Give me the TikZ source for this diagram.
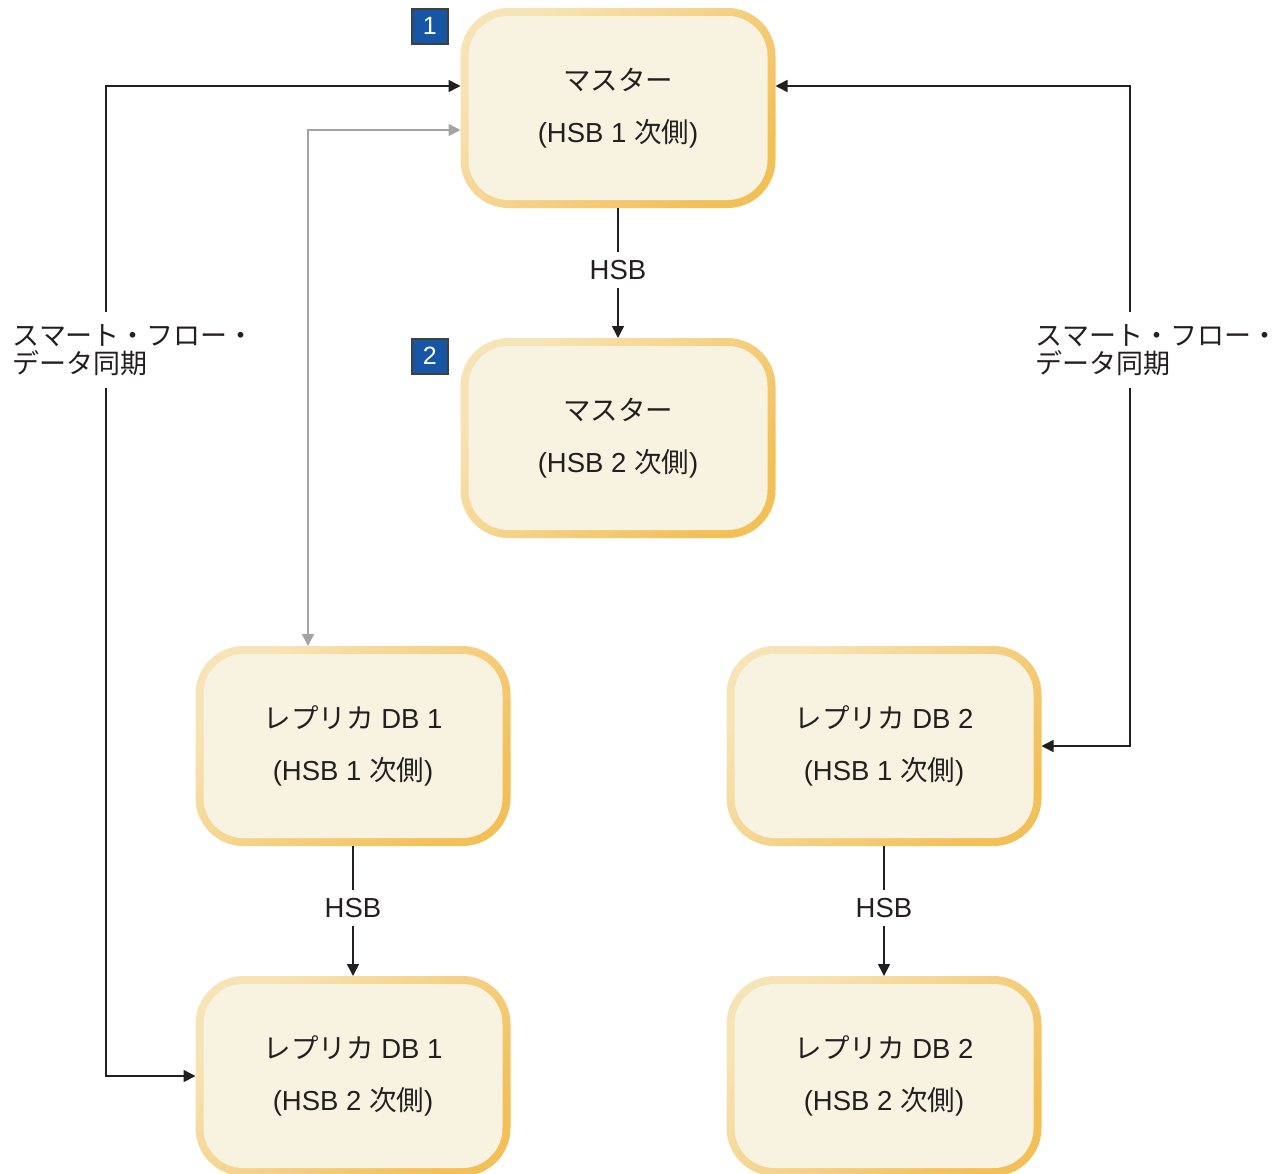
\documentclass[tikz,border=0pt]{standalone}
\usepackage{fontspec}
\setmainfont{Liberation Sans}
\newfontfamily\jp{Noto Sans CJK JP}
\usetikzlibrary{arrows.meta, positioning}
\definecolor{boxfill}{HTML}{F8F3E1}
\definecolor{edgelight}{HTML}{F7E4B6}
\definecolor{edgedark}{HTML}{F3BF57}
\definecolor{badgeblue}{HTML}{1656A5}
\definecolor{linkgray}{HTML}{A3A3A3}
\definecolor{ink}{HTML}{231F20}
\newcommand{\hsbside}[1]{(HSB #1 {\jp 次側})}
\newcommand{\replica}[1]{{\jp レプリカ} DB #1}
\tikzset{>={Triangle[length=12pt,width=12pt]},
    dbbox/.style={rounded corners=48pt, outer sep=0pt,
        minimum width=315pt, minimum height=200pt,
        top color=edgelight, bottom color=edgedark, shading angle=45,
        path picture={\fill[boxfill, rounded corners=40pt]
            ([shift={(8pt,-8pt)}]path picture bounding box.north west) rectangle
            ([shift={(-8pt,8pt)}]path picture bounding box.south east);},
        align=center, text=ink, font=\fontsize{27.5}{52}\selectfont},
    badge/.style={draw=black!75, line width=1.5pt, fill=badgeblue, text=white,
        minimum width=36pt, minimum height=35pt, inner sep=0pt,
        font=\fontsize{25}{25}\selectfont},
    synclabel/.style={anchor=west, align=left, inner xsep=0pt, inner ysep=12pt,
        text=ink, font=\jp\fontsize{27}{28}\selectfont},
    hsblabel/.style={fill=white, inner sep=8pt, text=ink,
        font=\fontsize{27.5}{27.5}\selectfont}}

\begin{document}
\begin{tikzpicture}[x=1pt, y=-1pt, line width=1.6pt, draw=ink]
\useasboundingbox (0,0) rectangle (1284,1173);
% boxes
\node[dbbox] (master1) at (618,108)            {{\jp マスター}\\\hsbside{1}};
\node[dbbox] (master2) [below=130pt of master1] {{\jp マスター}\\\hsbside{2}};
\node[dbbox] (rep1a)   at (353,746)            {\replica{1}\\\hsbside{1}};
\node[dbbox] (rep1b)   [below=130pt of rep1a]   {\replica{1}\\\hsbside{2}};
\node[dbbox] (rep2a)   [right=216pt of rep1a]   {\replica{2}\\\hsbside{1}};
\node[dbbox] (rep2b)   [below=130pt of rep2a]   {\replica{2}\\\hsbside{2}};
\node[badge, anchor=north east] (tag1) at ([xshift=-12pt]master1.north west) {1};
\node[badge, anchor=north east] (tag2) at ([xshift=-12pt]master2.north west) {2};
% sync labels
\node[synclabel] (sync1) at (12,350)   {スマート・フロー・\\データ同期};
\node[synclabel] (sync2) at (1035,350) {スマート・フロー・\\データ同期};
\coordinate (lx) at (106,0);
\coordinate (rx) at (1130,0);
% connectors
\draw[->] (sync1.north -| lx) |- ([yshift=22pt]master1.west);
\draw[->] (sync1.south -| lx) |- (rep1b.west);
\draw[->] (sync2.north -| rx) |- ([yshift=22pt]master1.east);
\draw[->] (sync2.south -| rx) |- (rep2a.east);
\draw[<->, linkgray] ([xshift=-45pt]rep1a.north) |- ([yshift=-22pt]master1.west);
\draw[->] (master1.south) -- node[hsblabel, yshift=3pt] {HSB} (master2.north);
\draw[->] (rep1a.south) -- node[hsblabel, yshift=3pt] {HSB} (rep1b.north);
\draw[->] (rep2a.south) -- node[hsblabel, yshift=3pt] {HSB} (rep2b.north);
\end{tikzpicture}
\end{document}
